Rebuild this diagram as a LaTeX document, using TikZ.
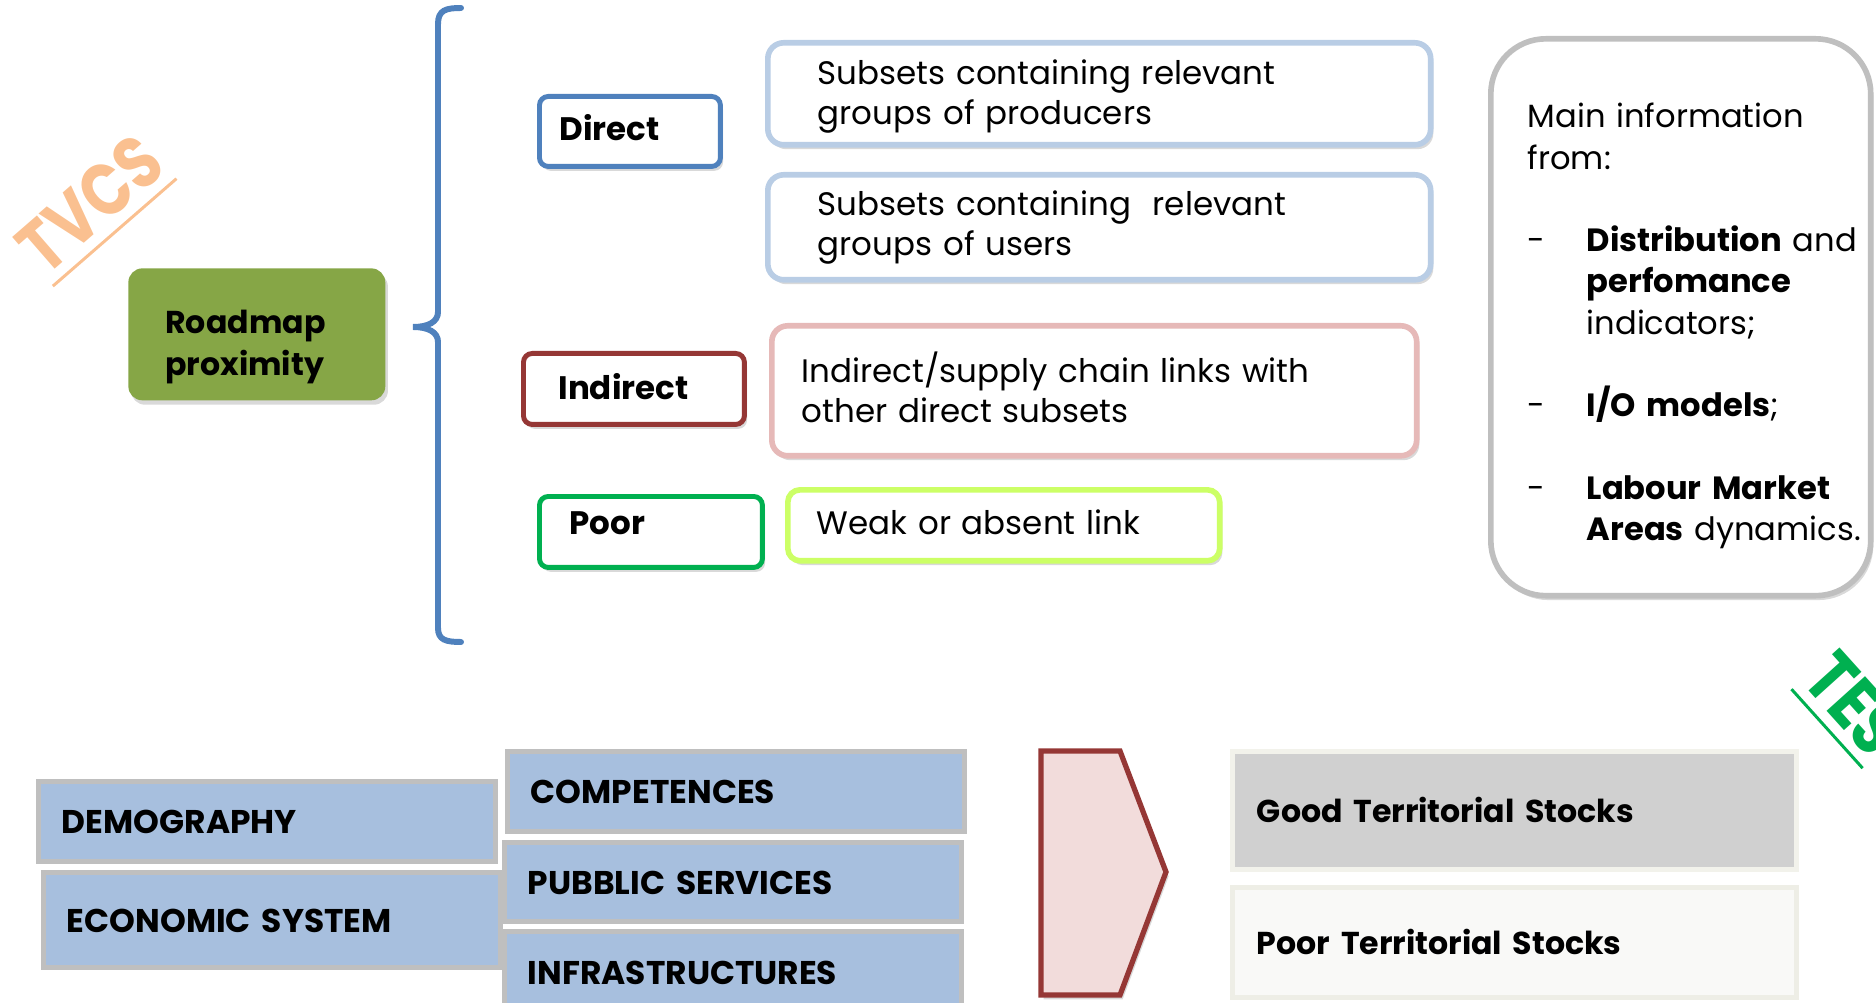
\documentclass[tikz,border=0pt]{standalone}
\usepackage{fontspec}
\setmainfont{Poppins}
\usetikzlibrary{shadows}

\definecolor{roadgreen}{RGB}{134,166,70}
\definecolor{directblue}{RGB}{79,129,189}
\definecolor{prodblue}{RGB}{185,205,229}
\definecolor{indred}{RGB}{149,55,53}
\definecolor{chainpink}{RGB}{230,185,184}
\definecolor{poorgreen}{RGB}{0,176,80}
\definecolor{weaklime}{RGB}{204,255,102}
\definecolor{infogray}{RGB}{191,191,191}
\definecolor{factorblue}{RGB}{167,191,222}
\definecolor{arrowpink}{RGB}{242,220,219}
\definecolor{goodgray}{RGB}{208,208,208}
\definecolor{goodrim}{RGB}{242,242,235}
\definecolor{poorwhite}{RGB}{249,249,247}
\definecolor{poorrim}{RGB}{238,238,230}
\definecolor{tvcsorange}{RGB}{250,192,144}

\begin{document}
\begin{tikzpicture}
  [x=0.02cm,y=-0.02cm,
   every node/.style={anchor=north west,inner ysep=0pt,align=left,text depth=0pt},
   softshadow/.style={drop shadow={shadow xshift=1.5pt,shadow yshift=-2.5pt,opacity=.3}},
   kind/.style={draw,line width=2.8pt,rounded corners=5pt,fill=white,softshadow,
     font=\fontsize{18.5}{22}\selectfont\bfseries},
   link/.style={draw,line width=3.2pt,rounded corners=9pt,fill=white,softshadow,
     font=\fontsize{18.5}{22.7}\selectfont},
   factor/.style={draw=infogray,line width=2.8pt,fill=factorblue,inner xsep=0.43cm,
     minimum width=9.14cm,text width=8.2cm,text height=0.5cm,
     font=\fontsize{18.7}{22}\selectfont\bfseries},
   stock/.style={line width=2.8pt,inner xsep=0.46cm,minimum width=11.28cm,
     text width=10.3cm,text height=0.48cm,font=\fontsize{18}{22}\selectfont\bfseries},
   tag/.style={anchor=center,inner xsep=0pt,inner ysep=0.22cm,
     font=\fontsize{42}{46}\selectfont\bfseries}]

  \useasboundingbox (0,0) rectangle (1876,1003);

  % corner tags
  \node[tag,text=tvcsorange,rotate=41,xscale=0.82] (tvcs) at (90,204) {TVCS};
  \draw[tvcsorange,line width=1.7pt] (tvcs.south west) -- (tvcs.south east);
  \node[tag,text=poorgreen,rotate=-48,xscale=0.82] (tes) at (1855,703.5) {TES};
  \draw[poorgreen,line width=1.7pt] (tes.south west) -- (tes.south east);

  % proximity and its three kinds
  \node[fill=roadgreen,rounded corners=8pt,softshadow,minimum width=5.14cm,
    minimum height=2.64cm,inner xsep=0.74cm,text width=3.66cm,text height=0.8cm,
    text depth=0.84cm,font=\fontsize{18}{23.8}\selectfont\bfseries] (road) at (128,268)
    {Roadmap\\proximity};

  \draw[directblue,line width=3.4pt,line cap=round]
    (461,8) .. controls (446,8) and (438,10) .. (438,24) -- (438,312)
    .. controls (438,322) and (428,327) .. (413,327)
    .. controls (428,327) and (438,332) .. (438,342) -- (438,628)
    .. controls (438,640) and (446,642) .. (461,642);

  \node[kind,draw=directblue,minimum width=3.62cm,minimum height=1.40cm,
    inner xsep=0.40cm,text width=2.82cm,text height=0.36cm] (direct) at (537,94) {Direct};
  \node[kind,draw=indred,minimum width=4.42cm,minimum height=1.42cm,
    inner xsep=0.70cm,text width=3.02cm,text height=0.42cm] (indirect) at (521,351) {Indirect};
  \node[kind,draw=poorgreen,minimum width=4.46cm,minimum height=1.42cm,
    inner xsep=0.60cm,text width=3.26cm,text height=0.10cm] (poor) at (537,494) {Poor};

  \node[link,draw=prodblue,minimum width=13.26cm,minimum height=2.04cm,
    inner xsep=1.0cm,text width=11.26cm,text height=0.44cm,text depth=0.8cm] (prod) at (765,40)
    {Subsets containing relevant\\groups of producers};
  \node[link,draw=prodblue,minimum width=13.26cm,minimum height=2.10cm,
    inner xsep=1.0cm,text width=11.26cm,text height=0.34cm,text depth=0.8cm] (users) at (765,172)
    {Subsets containing~ relevant\\groups of users};
  \node[link,draw=chainpink,minimum width=12.90cm,minimum height=2.60cm,
    inner xsep=0.60cm,text width=11.70cm,text height=0.48cm,text depth=0.8cm] (chain) at (769,323)
    {Indirect/supply chain links with\\other direct subsets};
  \node[link,draw=weaklime,rounded corners=7pt,minimum width=8.64cm,minimum height=1.42cm,
    inner xsep=0.58cm,text width=7.48cm,text height=0.38cm] (weak) at (785,487)
    {Weak or absent link};

  % sources
  \node[link,draw=infogray,rounded corners=1.1cm,minimum width=7.60cm,minimum height=11.14cm,
    inner xsep=0.74cm,text width=6.12cm,text height=0.71cm,text depth=8.29cm,
    font=\fontsize{18.3}{23.5}\selectfont] (info) at (1488,36)
    {\mbox{Main information}\\
     from:\\[\baselineskip]
     \mbox{\makebox[1.18cm][l]{-}\textbf{Distribution} and}\\
     \mbox{\hspace*{1.18cm}\textbf{perfomance}}\\
     \mbox{\hspace*{1.18cm}indicators;}\\[\baselineskip]
     \mbox{\makebox[1.18cm][l]{-}\textbf{I/O models};}\\[\baselineskip]
     \mbox{\makebox[1.18cm][l]{-}\textbf{Labour Market}}\\
     \mbox{\hspace*{1.18cm}\textbf{Areas} dynamics.}};

  % territorial factors
  \foreach \name/\x/\y/\h/\txt in {demo/36/779/1.60/DEMOGRAPHY,
                                   econ/41/870/1.90/ECONOMIC SYSTEM,
                                   comp/505/749/1.60/COMPETENCES,
                                   pubserv/502/840/1.58/PUBBLIC SERVICES,
                                   infra/502/929/1.64/INFRASTRUCTURES}
    \node[factor,minimum height=\h cm] (\name) at (\x,\y) {\txt};

  \draw[indred,fill=arrowpink,line width=3pt,softshadow]
    (1041,751) -- (1120,751) -- (1166,872) -- (1120,995) -- (1041,995) -- cycle;

  \node[stock,draw=goodrim,fill=goodgray,minimum height=2.36cm] (good) at (1230,749)
    {Good Territorial Stocks};
  \node[stock,draw=poorrim,fill=poorwhite,minimum height=2.20cm] (weakstock) at (1230,885)
    {Poor Territorial Stocks};
\end{tikzpicture}
\end{document}
